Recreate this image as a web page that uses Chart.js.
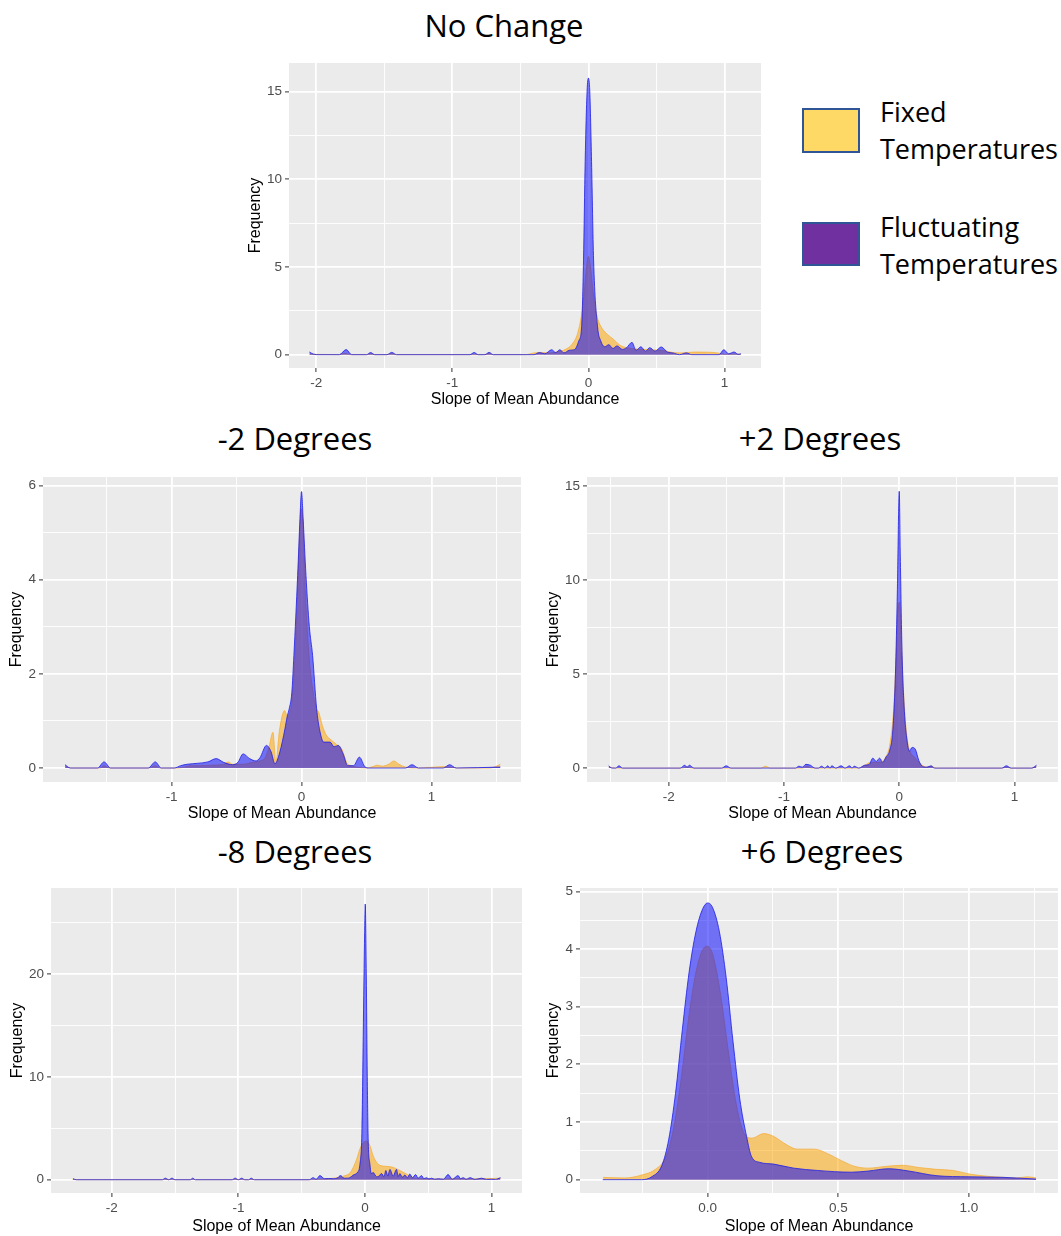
<!DOCTYPE html>
<html>
<head>
<meta charset="utf-8">
<script src="https://cdn.jsdelivr.net/npm/chart.js@4.4.1/dist/chart.umd.min.js"></script>
<style>
  body { margin: 0; background: #fff; width: 1061px; height: 1236px; position: relative; overflow: hidden; font-family: 'Open Sans', sans-serif; }
  canvas { position: absolute; }
  .title { position: absolute; font-size: 31px; line-height: 1; transform: translate(-50%, -50%); white-space: nowrap; color: #000; }
  .swatch { position: absolute; left: 802px; width: 54px; border: 2px solid #2F5597; }
  .leg { position: absolute; left: 880px; font-size: 27px; line-height: 37px; color: #000; white-space: nowrap; }
</style>
</head>
<body>
<div class="title" style="left:504px;top:25px">No Change</div>
<div class="title" style="left:295px;top:438px">-2 Degrees</div>
<div class="title" style="left:820px;top:438px">+2 Degrees</div>
<div class="title" style="left:295px;top:851px">-8 Degrees</div>
<div class="title" style="left:822px;top:851px">+6 Degrees</div>

<div class="swatch" style="top:108px;height:41px;background:#FFD966"></div>
<div class="leg" style="top:93px">Fixed<br>Temperatures</div>
<div class="swatch" style="top:222px;height:40px;background:#7030A0"></div>
<div class="leg" style="top:208px">Fluctuating<br>Temperatures</div>

<canvas id="c1"></canvas>
<canvas id="c2"></canvas>
<canvas id="c3"></canvas>
<canvas id="c4"></canvas>
<canvas id="c5"></canvas>

<script>
// ---- No Change ----
const ncFixedX = [-2.05, -1.83, -1.79, -1.75, -1.63, -1.60, -1.57, -1.48, -1.45, -1.42, -0.77, -0.73, -0.70, -0.46, -0.40, -0.34, -0.28, -0.22, -0.17, -0.12, -0.08, -0.05, -0.03, -0.015, 0, 0.015, 0.03, 0.05, 0.07, 0.10, 0.14, 0.18, 0.23, 0.28, 0.35, 0.45, 0.55, 0.62, 0.68, 0.78, 0.88, 0.95, 1.00, 1.06, 1.12];
const ncFixedY = [0.02, 0, 0.08, 0, 0, 0.05, 0, 0, 0.06, 0, 0, 0.06, 0, 0, 0.1, 0.12, 0.1, 0.18, 0.3, 0.6, 1.2, 2.3, 3.6, 4.9, 5.6, 5.0, 3.9, 2.7, 2.0, 1.5, 1.15, 0.9, 0.55, 0.4, 0.32, 0.28, 0.24, 0.12, 0.1, 0.15, 0.14, 0.1, 0.02, 0.04, 0.02];
const ncFluctX = [-2.05, -2.02, -1.98, -1.83, -1.78, -1.74, -1.63, -1.60, -1.57, -1.48, -1.445, -1.41, -0.87, -0.84, -0.81, -0.76, -0.73, -0.70, -0.40, -0.36, -0.32, -0.27, -0.24, -0.21, -0.18, -0.14, -0.10, -0.07, -0.05, -0.036, -0.024, -0.01, 0, 0.01, 0.023, 0.038, 0.067, 0.09, 0.12, 0.15, 0.18, 0.21, 0.25, 0.28, 0.32, 0.35, 0.385, 0.42, 0.45, 0.49, 0.535, 0.58, 0.62, 0.67, 0.72, 0.76, 0.96, 0.995, 1.03, 1.07, 1.10, 1.12];
const ncFluctY = [0.15, 0.03, 0, 0, 0.29, 0, 0, 0.12, 0, 0, 0.13, 0, 0, 0.12, 0, 0, 0.13, 0, 0, 0.12, 0.05, 0.28, 0.12, 0.28, 0.1, 0.25, 0.3, 0.8, 1.6, 5.4, 11, 15, 15.76, 15, 11, 5.4, 1.6, 0.8, 0.45, 0.57, 0.35, 0.5, 0.3, 0.4, 0.7, 0.25, 0.45, 0.2, 0.4, 0.2, 0.44, 0.15, 0.1, 0, 0.1, 0, 0, 0.28, 0.05, 0.15, 0.02, 0.05];

// ---- -2 Degrees ----
const m2FixedX = [-1.82, -1.77, -1.55, -1.52, -1.48, -1.17, -1.13, -1.09, -0.95, -0.85, -0.78, -0.70, -0.60, -0.565, -0.53, -0.45, -0.38, -0.32, -0.28, -0.25, -0.22, -0.198, -0.17, -0.13, -0.11, -0.08, -0.06, -0.04, -0.02, -0.005, 0.01, 0.03, 0.06, 0.09, 0.115, 0.13, 0.16, 0.19, 0.23, 0.27, 0.31, 0.35, 0.38, 0.42, 0.50, 0.55, 0.58, 0.62, 0.67, 0.71, 0.75, 0.80, 0.90, 1.10, 1.20, 1.45, 1.50, 1.53];
const m2FixedY = [0.03, 0, 0, 0.05, 0, 0, 0.05, 0, 0, 0.05, 0.05, 0.06, 0.08, 0.13, 0.08, 0.08, 0.12, 0.15, 0.22, 0.45, 0.76, 0.11, 0.8, 1.22, 1.1, 1.3, 1.9, 3.0, 4.6, 5.5, 5.3, 3.7, 2.3, 1.6, 1.25, 1.2, 0.9, 0.7, 0.59, 0.5, 0.4, 0.1, 0.05, 0.02, 0, 0.03, 0.06, 0.04, 0.08, 0.15, 0.08, 0.02, 0, 0.03, 0, 0, 0.04, 0.08];
const m2FluctX = [-1.82, -1.78, -1.57, -1.52, -1.47, -1.18, -1.126, -1.08, -0.98, -0.93, -0.88, -0.80, -0.72, -0.657, -0.60, -0.53, -0.49, -0.45, -0.40, -0.35, -0.32, -0.27, -0.235, -0.205, -0.167, -0.128, -0.11, -0.095, -0.075, -0.059, -0.03, -0.012, 0, 0.012, 0.034, 0.06, 0.085, 0.116, 0.14, 0.17, 0.22, 0.25, 0.283, 0.32, 0.355, 0.40, 0.445, 0.49, 0.52, 0.80, 0.85, 0.90, 1.09, 1.14, 1.19, 1.53];
const m2FluctY = [0.07, 0, 0, 0.13, 0, 0, 0.13, 0, 0, 0.05, 0.08, 0.1, 0.13, 0.2, 0.12, 0.07, 0.12, 0.3, 0.2, 0.15, 0.22, 0.48, 0.35, 0.09, 0.34, 0.83, 1.1, 1.26, 1.6, 2.39, 4.09, 5.3, 5.87, 5.3, 4.09, 3.0, 2.39, 1.26, 0.8, 0.55, 0.55, 0.45, 0.48, 0.3, 0.05, 0.05, 0.23, 0.02, 0, 0, 0.07, 0, 0, 0.07, 0, 0.02];

// ---- +2 Degrees ----
const p2FixedX = [-2.52, -2.45, -1.88, -1.84, -1.80, -1.20, -1.16, -1.12, -0.84, -0.80, -0.76, -0.35, -0.30, -0.25, -0.20, -0.15, -0.10, -0.08, -0.05, -0.03, -0.012, 0, 0.015, 0.03, 0.05, 0.07, 0.10, 0.13, 0.17, 0.20, 0.24, 0.28, 0.32, 0.90, 0.93, 0.96, 1.15, 1.19];
const p2FixedY = [0.05, 0, 0, 0.06, 0, 0, 0.1, 0, 0, 0.1, 0, 0, 0.15, 0.3, 0.3, 0.35, 0.8, 1.3, 3.0, 5.5, 8.2, 8.84, 7.5, 5.0, 2.8, 1.5, 0.8, 0.6, 0.3, 0.15, 0.05, 0.1, 0, 0, 0.05, 0, 0, 0.08];
const p2FluctX = [-2.52, -2.49, -2.46, -2.43, -2.40, -1.90, -1.86, -1.84, -1.82, -1.78, -1.54, -1.50, -1.46, -0.90, -0.87, -0.84, -0.81, -0.77, -0.73, -0.70, -0.675, -0.645, -0.62, -0.60, -0.585, -0.55, -0.504, -0.47, -0.43, -0.41, -0.39, -0.35, -0.30, -0.26, -0.229, -0.20, -0.17, -0.143, -0.114, -0.085, -0.056, -0.033, -0.016, 0, 0.01, 0.025, 0.045, 0.065, 0.088, 0.111, 0.14, 0.17, 0.20, 0.24, 0.276, 0.305, 0.89, 0.93, 0.97, 1.15, 1.19];
const p2FluctY = [0.12, 0, 0, 0.12, 0, 0, 0.15, 0.05, 0.15, 0, 0, 0.12, 0, 0, 0.1, 0.05, 0.2, 0.15, 0, 0, 0.1, 0, 0.12, 0, 0.12, 0, 0.12, 0, 0.12, 0, 0.1, 0, 0.15, 0.2, 0.53, 0.35, 0.53, 0.3, 0.6, 0.9, 2.0, 5.0, 9.5, 14.73, 11, 6.0, 3.0, 1.6, 0.9, 1.1, 1.0, 0.4, 0.1, 0.05, 0.12, 0, 0, 0.12, 0, 0, 0.15];

// ---- -8 Degrees ----
const m8FixedX = [-2.31, -2.27, -1.60, -1.578, -1.55, -1.525, -1.50, -1.38, -1.36, -1.34, -1.05, -1.026, -1.0, -0.973, -0.95, -0.92, -0.898, -0.87, -0.45, -0.36, -0.30, -0.25, -0.17, -0.12, -0.093, -0.066, -0.04, -0.014, 0.012, 0.039, 0.065, 0.091, 0.118, 0.17, 0.223, 0.275, 0.328, 0.38, 0.433, 0.50, 0.60, 0.70, 0.80, 0.90, 1.00, 1.07];
const m8FixedY = [0.05, 0, 0, 0.06, 0, 0.06, 0, 0, 0.06, 0, 0, 0.06, 0, 0.06, 0, 0, 0.06, 0, 0, 0.05, 0.08, 0.15, 0.35, 0.65, 1.2, 2.0, 3.0, 3.6, 3.75, 3.3, 2.3, 1.7, 1.4, 1.3, 1.2, 0.9, 0.55, 0.2, 0.1, 0.08, 0.05, 0.1, 0.08, 0.1, 0.12, 0.15];
const m8FluctX = [-2.306, -2.28, -1.60, -1.578, -1.55, -1.525, -1.50, -1.38, -1.36, -1.34, -1.05, -1.026, -1.0, -0.973, -0.95, -0.92, -0.898, -0.875, -0.44, -0.41, -0.385, -0.356, -0.32, -0.29, -0.25, -0.22, -0.193, -0.165, -0.145, -0.12, -0.093, -0.061, -0.04, -0.024, -0.014, -0.003, 0.002, 0.01, 0.018, 0.025, 0.039, 0.05, 0.065, 0.09, 0.11, 0.13, 0.15, 0.165, 0.18, 0.197, 0.222, 0.249, 0.262, 0.275, 0.295, 0.315, 0.335, 0.354, 0.375, 0.4, 0.42, 0.446, 0.465, 0.485, 0.505, 0.525, 0.55, 0.578, 0.62, 0.656, 0.69, 0.735, 0.755, 0.775, 0.80, 0.83, 0.87, 0.92, 0.96, 0.998, 1.03, 1.07];
const m8FluctY = [0.1, 0, 0, 0.15, 0, 0.15, 0, 0, 0.15, 0, 0, 0.15, 0, 0.15, 0, 0, 0.15, 0, 0, 0.2, 0.05, 0.4, 0.1, 0.12, 0.1, 0.15, 0.4, 0.15, 0.15, 0.2, 0.45, 0.7, 1.5, 5, 14, 24, 26.8, 20, 10, 4, 1.5, 0.6, 0.7, 0.3, 0.35, 0.6, 0.3, 0.9, 0.35, 1.0, 0.35, 1.0, 0.3, 0.6, 0.25, 0.45, 0.2, 0.55, 0.2, 0.5, 0.15, 0.4, 0.1, 0.2, 0.08, 0.15, 0.05, 0.1, 0.05, 0.5, 0.05, 0.4, 0.1, 0.2, 0.05, 0.2, 0.03, 0.15, 0.03, 0.05, 0.03, 0.2];

// ---- +6 Degrees ----
const p6FixedX = [-0.40, -0.317, -0.253, -0.20, -0.16, -0.13, -0.10, -0.07, -0.04, -0.015, 0, 0.02, 0.05, 0.08, 0.11, 0.14, 0.17, 0.214, 0.253, 0.304, 0.343, 0.408, 0.46, 0.512, 0.564, 0.615, 0.68, 0.745, 0.81, 0.874, 0.94, 1.00, 1.07, 1.134, 1.185, 1.224, 1.257];
const p6FixedY = [0.04, 0.03, 0.08, 0.18, 0.4, 0.9, 1.8, 2.9, 3.7, 4.02, 4.05, 3.9, 3.2, 2.2, 1.3, 0.8, 0.72, 0.8, 0.75, 0.6, 0.53, 0.53, 0.45, 0.33, 0.23, 0.2, 0.23, 0.25, 0.21, 0.18, 0.16, 0.1, 0.06, 0.04, 0.03, 0.05, 0.03];
const p6FluctX = [-0.4016, -0.253, -0.214, -0.175, -0.149, -0.123, -0.097, -0.071, -0.045, -0.019, 0, 0.019, 0.045, 0.071, 0.097, 0.123, 0.149, 0.168, 0.20, 0.253, 0.33, 0.42, 0.55, 0.615, 0.693, 0.77, 0.874, 1.00, 1.134, 1.257];
const p6FluctY = [0, 0, 0.05, 0.25, 0.7, 1.5, 2.6, 3.6, 4.3, 4.7, 4.8, 4.72, 4.3, 3.5, 2.4, 1.4, 0.75, 0.4, 0.3, 0.27, 0.2, 0.16, 0.13, 0.15, 0.19, 0.15, 0.07, 0.05, 0.04, 0.01];

// tick values (major get labels, minor only grid)
const ncXMajor = [-2, -1, 0, 1], ncXMinor = [-1.5, -0.5, 0.5];
const ncYMajor = [0, 5, 10, 15], ncYMinor = [2.5, 7.5, 12.5];
const m2XMajor = [-1, 0, 1], m2XMinor = [-1.5, -0.5, 0.5, 1.5];
const m2YMajor = [0, 2, 4, 6], m2YMinor = [1, 3, 5];
const p2XMajor = [-2, -1, 0, 1], p2XMinor = [-2.5, -1.5, -0.5, 0.5];
const p2YMajor = [0, 5, 10, 15], p2YMinor = [2.5, 7.5, 12.5];
const m8XMajor = [-2, -1, 0, 1], m8XMinor = [-1.5, -0.5, 0.5];
const m8YMajor = [0, 10, 20], m8YMinor = [5, 15, 25];
const p6XMajor = [0, 0.5, 1], p6XMinor = [-0.25, 0.25, 0.75, 1.25];
const p6YMajor = [0, 1, 2, 3, 4, 5], p6YMinor = [0.5, 1.5, 2.5, 3.5, 4.5];

const panels = [
  { id: 'c1', L: 289, T: 63, R: 761, B: 368, yW: 43, xH: 41, x: [-2.2, 1.268], y: [-0.76, 16.62],
    xt: [ncXMajor, ncXMinor], yt: [ncYMajor, ncYMinor], fixed: [ncFixedX, ncFixedY], fluct: [ncFluctX, ncFluctY], xFmt: 0 },
  { id: 'c2', L: 43, T: 477, R: 521, B: 782, yW: 36, xH: 41, x: [-1.99, 1.689], y: [-0.297, 6.179],
    xt: [m2XMajor, m2XMinor], yt: [m2YMajor, m2YMinor], fixed: [m2FixedX, m2FixedY], fluct: [m2FluctX, m2FluctY], xFmt: 0 },
  { id: 'c3', L: 587, T: 477, R: 1058, B: 782, yW: 43, xH: 41, x: [-2.708, 1.377], y: [-0.74, 15.49],
    xt: [p2XMajor, p2XMinor], yt: [p2YMajor, p2YMinor], fixed: [p2FixedX, p2FixedY], fluct: [p2FluctX, p2FluctY], xFmt: 0 },
  { id: 'c4', L: 51, T: 888, R: 522, B: 1193, yW: 43, xH: 43, x: [-2.48, 1.24], y: [-1.29, 28.36],
    xt: [m8XMajor, m8XMinor], yt: [m8YMajor, m8YMinor], fixed: [m8FixedX, m8FixedY], fluct: [m8FluctX, m8FluctY], xFmt: 0 },
  { id: 'c5', L: 580, T: 888, R: 1058, B: 1193, yW: 36, xH: 43, x: [-0.4886, 1.3409], y: [-0.231, 5.06],
    xt: [p6XMajor, p6XMinor], yt: [p6YMajor, p6YMinor], fixed: [p6FixedX, p6FixedY], fluct: [p6FluctX, p6FluctY], xFmt: 1 }
];

Chart.defaults.font.family = "'Liberation Sans', Arial, sans-serif";

const panelBg = {
  id: 'panelBg',
  beforeDraw(chart) {
    const { ctx, chartArea: a } = chart;
    ctx.save();
    ctx.fillStyle = '#EBEBEB';
    ctx.fillRect(a.left, a.top, a.right - a.left, a.bottom - a.top);
    ctx.restore();
  }
};

function pts(xs, ys) {
  return xs.map((x, i) => ({ x: x, y: ys[i] }));
}

function axis(range, major, minor, title, fmt, size, horizontal) {
  const all = major.concat(minor).sort((a, b) => a - b);
  const isMajor = (c) => c.tick && major.includes(c.tick.value);
  return {
    type: 'linear',
    min: range[0],
    max: range[1],
    afterBuildTicks: (ax) => { ax.ticks = all.map(v => ({ value: v })); },
    afterFit: (ax) => { if (horizontal) ax.height = size; else ax.width = size; },
    border: { display: false },
    grid: {
      color: '#FFFFFF',
      lineWidth: (c) => isMajor(c) ? 1.8 : 0.9,
      tickColor: (c) => isMajor(c) ? '#333333' : 'rgba(0,0,0,0)',
      tickLength: 4,
      tickWidth: 1
    },
    ticks: {
      color: '#4D4D4D',
      font: { size: 13.5 },
      padding: 3,
      autoSkip: false,
      maxRotation: 0,
      callback: (v) => major.includes(v) ? v.toFixed(fmt) : ''
    },
    title: { display: true, text: title, color: '#000', font: { size: 16 }, padding: 0 }
  };
}

const padT = 14, padR = 4;

panels.forEach(p => {
  const cv = document.getElementById(p.id);
  const w = p.yW + (p.R - p.L) + padR;
  const h = padT + (p.B - p.T) + p.xH;
  cv.width = w; cv.height = h;
  cv.style.left = (p.L - p.yW) + 'px';
  cv.style.top = (p.T - padT) + 'px';
  cv.style.width = w + 'px';
  cv.style.height = h + 'px';

  new Chart(cv, {
    type: 'line',
    data: {
      datasets: [
        {
          label: 'Fluctuating Temperatures',
          data: pts(p.fluct[0], p.fluct[1]),
          order: 1,
          fill: 'origin',
          backgroundColor: 'rgba(0, 0, 255, 0.52)',
          borderColor: 'rgba(30, 30, 230, 0.8)',
          borderWidth: 1,
          pointRadius: 0,
          cubicInterpolationMode: 'monotone'
        },
        {
          label: 'Fixed Temperatures',
          data: pts(p.fixed[0], p.fixed[1]),
          order: 2,
          fill: 'origin',
          backgroundColor: 'rgba(255, 165, 0, 0.52)',
          borderColor: 'rgba(245, 170, 50, 0.7)',
          borderWidth: 1,
          pointRadius: 0,
          cubicInterpolationMode: 'monotone'
        }
      ]
    },
    options: {
      responsive: false,
      animation: false,
      layout: { padding: { top: padT, right: padR, left: 0, bottom: 0 } },
      plugins: { legend: { display: false }, tooltip: { enabled: false } },
      scales: {
        x: axis(p.x, p.xt[0], p.xt[1], 'Slope of Mean Abundance', p.xFmt, p.xH, true),
        y: axis(p.y, p.yt[0], p.yt[1], 'Frequency', 0, p.yW, false)
      }
    },
    plugins: [panelBg]
  });
});
</script>
</body>
</html>
